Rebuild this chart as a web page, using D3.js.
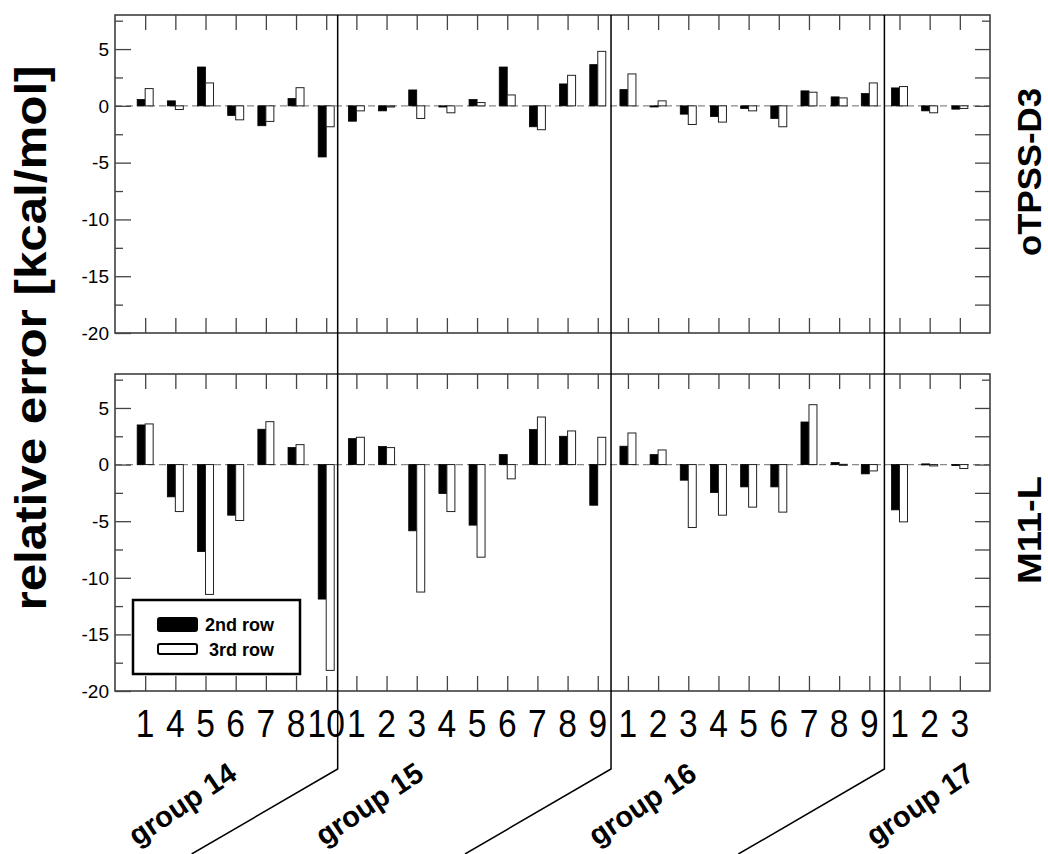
<!DOCTYPE html>
<html>
<head>
<meta charset="utf-8">
<title>relative error</title>
<script src="https://d3js.org/d3.v7.min.js"></script>
<style>
  body { margin: 0; background: #fff; }
  text { font-family: "Liberation Sans", Arial, sans-serif; }
</style>
</head>
<body>
<script>
var categories = ["1","4","5","6","7","8","10",
                  "1","2","3","4","5","6","7","8","9",
                  "1","2","3","4","5","6","7","8","9",
                  "1","2","3"];
var groupNames = ["group 14", "group 15", "group 16", "group 17"];
var groupLabelPos = [2.25, 8.45, 17.5, 26.7];
var separators = [7.38, 16.44, 25.5];
var seriesNames = ["2nd row", "3rd row"];
var panelNames = ["oTPSS-D3", "M11-L"];
var yTicks = [5, 0, -5, -10, -15, -20];

var otpss2nd = [0.56, 0.44, 3.42, -0.85, -1.75, 0.64, -4.5,
                -1.35, -0.44, 1.4, -0.1, 0.56, 3.42, -1.84, 1.93, 3.63,
                1.43, -0.1, -0.73, -0.94, -0.23, -1.11, 1.32, 0.79, 1.08,
                1.58, -0.44, -0.29];
var otpss3rd = [1.52, -0.32, 2.02, -1.23, -1.37, 1.6, -1.84,
                -0.44, -0.1, -1.11, -0.61, 0.29, 0.96, -2.1, 2.69, 4.8,
                2.81, 0.44, -1.64, -1.43, -0.44, -1.84, 1.2, 0.7, 2.02,
                1.7, -0.61, -0.23];
var m11l2nd = [3.5, -2.85, -7.68, -4.47, 3.12, 1.5, -11.88,
               2.29, 1.59, -5.85, -2.56, -5.35, 0.88, 3.09, 2.5, -3.59,
               1.62, 0.88, -1.38, -2.47, -1.97, -1.97, 3.76, 0.18, -0.82,
               -4.0, 0.06, -0.06];
var m11l3rd = [3.59, -4.15, -11.47, -4.94, 3.79, 1.76, -18.18,
               2.41, 1.5, -11.26, -4.15, -8.18, -1.26, 4.2, 2.97, 2.41,
               2.79, 1.29, -5.56, -4.47, -3.76, -4.2, 5.29, 0.02, -0.56,
               -5.06, -0.12, -0.35];

var width = 1048, height = 854;
var left = 115, right = 990;

var svg = d3.select("body").append("svg")
    .attr("width", width)
    .attr("height", height);

var x = d3.scaleLinear().domain([0, categories.length + 1]).range([left, right]);
var barW = (x(1) - x(0)) * 0.265;

var panels = [
  {name: panelNames[0], s1: otpss2nd, s2: otpss3rd, top: 15, bottom: 333, labelY: 172, len: 168},
  {name: panelNames[1], s1: m11l2nd, s2: m11l3rd, top: 374, bottom: 691, labelY: 530, len: 108}
];

function tickStyle(a) {
  a.select(".domain").remove();
  a.selectAll("line").attr("stroke", "#444").attr("stroke-width", 1.3);
}

panels.forEach(function(p) {
  var y = d3.scaleLinear().domain([-20, 8]).range([p.bottom, p.top]);
  var g = svg.append("g");

  // zero line
  g.append("line")
      .attr("x1", left).attr("x2", right)
      .attr("y1", y(0)).attr("y2", y(0))
      .attr("stroke", "#888")
      .attr("stroke-width", 1.2)
      .attr("stroke-dasharray", "7,4");

  // bars
  g.selectAll("rect.s1").data(p.s1).enter().append("rect")
      .attr("class", "s1")
      .attr("x", function(d, i) { return x(i + 1) - barW; })
      .attr("y", function(d) { return y(Math.max(d, 0)); })
      .attr("width", barW)
      .attr("height", function(d) { return Math.max(Math.abs(y(d) - y(0)), 1); })
      .attr("fill", "#000")
      .attr("stroke", "#000")
      .attr("stroke-width", 0.8);

  g.selectAll("rect.s2").data(p.s2).enter().append("rect")
      .attr("class", "s2")
      .attr("x", function(d, i) { return x(i + 1); })
      .attr("y", function(d) { return y(Math.max(d, 0)); })
      .attr("width", barW)
      .attr("height", function(d) { return Math.max(Math.abs(y(d) - y(0)), 1); })
      .attr("fill", "#fff")
      .attr("stroke", "#222")
      .attr("stroke-width", 1);

  // frame
  g.append("rect")
      .attr("x", left).attr("y", p.top)
      .attr("width", right - left).attr("height", p.bottom - p.top)
      .attr("fill", "none")
      .attr("stroke", "#333")
      .attr("stroke-width", 1.5);

  // left axis
  g.append("g").attr("transform", "translate(" + left + ",0)")
      .call(d3.axisRight(y).tickValues(yTicks).tickSize(16).tickFormat(""))
      .call(tickStyle);
  g.append("g").attr("transform", "translate(" + left + ",0)")
      .call(d3.axisRight(y).tickValues([7.5, 2.5, -2.5, -7.5, -12.5, -17.5]).tickSize(8).tickFormat(""))
      .call(tickStyle);

  g.selectAll("text.ylab").data(yTicks).enter().append("text")
      .attr("class", "ylab")
      .attr("x", left - 6)
      .attr("y", function(d) { return y(d); })
      .attr("dy", "0.36em")
      .attr("text-anchor", "end")
      .attr("font-size", 19)
      .text(function(d) { return d; });

  // right axis
  g.append("g").attr("transform", "translate(" + right + ",0)")
      .call(d3.axisLeft(y).tickValues([5, 2.5, 0, -2.5, -5, -7.5, -10, -12.5, -15, -17.5]).tickSize(15).tickFormat(""))
      .call(tickStyle);
  g.append("g").attr("transform", "translate(" + right + ",0)")
      .call(d3.axisLeft(y).tickValues([7.5]).tickSize(8).tickFormat(""))
      .call(tickStyle);

  // top and bottom category ticks
  var ticksX = d3.range(1, categories.length + 1);
  g.append("g").attr("transform", "translate(0," + p.top + ")")
      .call(d3.axisBottom(x).tickValues(ticksX).tickSize(15).tickFormat(""))
      .call(tickStyle);
  g.append("g").attr("transform", "translate(0," + p.bottom + ")")
      .call(d3.axisTop(x).tickValues(ticksX).tickSize(15).tickFormat(""))
      .call(tickStyle);

  // panel label on the right
  svg.append("text")
      .attr("transform", "translate(1041," + p.labelY + ") rotate(-90)")
      .attr("text-anchor", "middle")
      .attr("font-size", 34)
      .attr("font-weight", "bold")
      .attr("textLength", p.len)
      .attr("lengthAdjust", "spacingAndGlyphs")
      .text(p.name);
});

// x category labels
svg.selectAll("text.xlab").data(categories).enter().append("text")
    .attr("class", "xlab")
    .attr("transform", function(d, i) { return "translate(" + x(i + 1) + ",737) scale(0.86,1)"; })
    .attr("text-anchor", "middle")
    .attr("font-size", 39)
    .text(function(d) { return d; });

// group separators
var sepBottom = 769;
svg.selectAll("path.sep").data(separators).enter().append("path")
    .attr("class", "sep")
    .attr("d", function(d) {
      var sx = x(d);
      return "M" + sx + ",15 L" + sx + "," + sepBottom + " L" + (sx - 146) + "," + (sepBottom + 85);
    })
    .attr("fill", "none")
    .attr("stroke", "#000")
    .attr("stroke-width", 1.5);

// group labels
svg.selectAll("text.grp").data(groupNames).enter().append("text")
    .attr("class", "grp")
    .attr("transform", function(d, i) { return "translate(" + x(groupLabelPos[i]) + ",805) rotate(-34)"; })
    .attr("text-anchor", "middle")
    .attr("dy", "0.3em")
    .attr("font-size", 29)
    .attr("font-weight", "bold")
    .text(function(d) { return d; });

// y title
svg.append("text")
    .attr("transform", "translate(46,338) rotate(-90)")
    .attr("text-anchor", "middle")
    .attr("font-size", 44)
    .attr("font-weight", "bold")
    .attr("textLength", 545)
    .attr("lengthAdjust", "spacingAndGlyphs")
    .text("relative error [kcal/mol]");

// legend
var lg = svg.append("g");
lg.append("rect")
    .attr("x", 133).attr("y", 600).attr("width", 167).attr("height", 74)
    .attr("fill", "#fff").attr("stroke", "#000").attr("stroke-width", 2.5);
var legendRows = [
  {name: seriesNames[0], fill: "#000", y: 618, h: 13, tx: 205, ty: 631},
  {name: seriesNames[1], fill: "#fff", y: 644, h: 10, tx: 209, ty: 656}
];
legendRows.forEach(function(r) {
  lg.append("rect")
      .attr("x", 158).attr("y", r.y).attr("width", 39).attr("height", r.h)
      .attr("rx", 2)
      .attr("fill", r.fill).attr("stroke", "#000").attr("stroke-width", 2);
  lg.append("text")
      .attr("x", r.tx).attr("y", r.ty)
      .attr("font-size", 18)
      .attr("font-weight", "bold")
      .text(r.name);
});
</script>
</body>
</html>
